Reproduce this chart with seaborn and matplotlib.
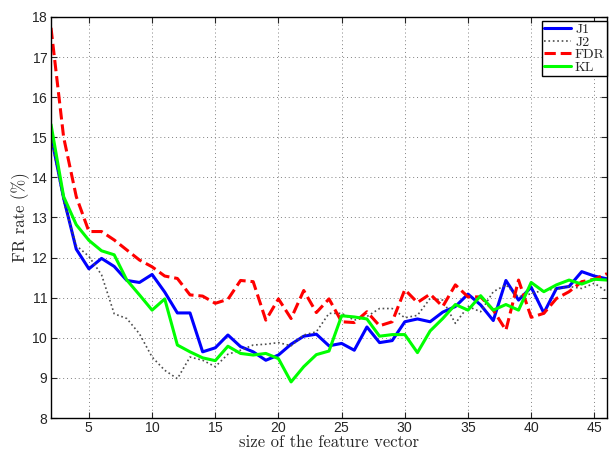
import numpy as np
import pandas as pd
import seaborn as sns
import matplotlib.pyplot as plt

# tamanho do vetor de caracteristicas
tamanho = list(range(2, 47))

j1 = [15.05, 13.48, 12.21, 11.72, 11.98, 11.78, 11.43, 11.38, 11.58, 11.14,
      10.62, 10.62, 9.65, 9.75, 10.07, 9.78, 9.65, 9.44, 9.57, 9.84,
      10.04, 10.09, 9.80, 9.86, 9.69, 10.27, 9.88, 9.93, 10.40, 10.47,
      10.40, 10.64, 10.78, 11.09, 10.82, 10.43, 11.43, 10.94, 11.26, 10.62,
      11.23, 11.28, 11.65, 11.54, 11.47]
j2 = [15.00, 13.40, 12.30, 12.03, 11.57, 10.60, 10.48, 10.10, 9.52, 9.19,
      8.98, 9.52, 9.44, 9.28, 9.59, 9.69, 9.82, 9.84, 9.88, 9.80,
      10.07, 10.15, 10.61, 10.61, 10.44, 10.53, 10.73, 10.73, 10.50, 10.56,
      10.98, 10.94, 10.36, 10.78, 10.65, 11.15, 11.32, 11.02, 11.10, 11.19,
      11.21, 11.28, 11.23, 11.36, 11.15]
fdr = [17.73, 15.00, 13.52, 12.65, 12.65, 12.44, 12.19, 11.94, 11.77, 11.54,
       11.48, 11.07, 11.04, 10.86, 10.96, 11.43, 11.40, 10.44, 10.97, 10.48,
       11.18, 10.63, 10.97, 10.40, 10.38, 10.65, 10.30, 10.40, 11.20, 10.88,
       11.09, 10.78, 11.32, 11.02, 11.02, 10.69, 10.19, 11.44, 10.51, 10.61,
       10.98, 11.15, 11.40, 11.46, 11.60]
kl = [15.32, 13.52, 12.82, 12.43, 12.17, 12.07, 11.44, 11.07, 10.69, 10.97,
      9.82, 9.65, 9.50, 9.43, 9.79, 9.61, 9.57, 9.61, 9.48, 8.90,
      9.28, 9.58, 9.67, 10.55, 10.52, 10.47, 10.04, 10.08, 10.08, 9.63,
      10.17, 10.48, 10.83, 10.69, 11.05, 10.69, 10.83, 10.69, 11.38, 11.15,
      11.32, 11.44, 11.34, 11.46, 11.44]

sns.set_style('ticks')
plt.rcParams['font.family'] = ['Liberation Sans', 'DejaVu Sans']
plt.rcParams['axes.formatter.use_mathtext'] = True

fig = plt.figure(figsize=(6.09, 4.51), dpi=100)
ax = fig.add_axes([51 / 609, 33 / 451, 556 / 609, 401 / 451])

series = [('J1', j1, (0, 0, 1), '-', 2.2),
          ('J2', j2, (0.3, 0.3, 0.3), ':', 1.2),
          ('FDR', fdr, (1, 0, 0), '--', 2.2),
          ('KL', kl, (0, 1, 0), '-', 2.2)]
for nome, valores, cor, estilo, lw in series:
    sns.lineplot(x=tamanho, y=valores, ax=ax, color=cor, linestyle=estilo,
                 linewidth=lw, label=nome)

ax.set_xlim(2, 46)
ax.set_ylim(8, 18)
ax.set_xticks(range(5, 46, 5))
ax.set_yticks(range(8, 19))
ax.grid(True, linestyle=(0, (1, 3)), color='gray', linewidth=0.7)
ax.tick_params(direction='in', top=True, right=True, labelsize=10, length=4, pad=2)
for s in ax.spines.values():
    s.set_linewidth(1)
    s.set_color('black')

serif = ['cmr10', 'DejaVu Serif']
ax.set_xlabel('size of the feature vector', family=serif, fontsize=12, labelpad=0)
ax.set_ylabel('FR rate (%)', family=serif, fontsize=12, labelpad=1)

leg = ax.legend(loc='upper right', bbox_to_anchor=(1.0, 0.99), frameon=True,
                fancybox=False, framealpha=1, edgecolor='black', borderpad=0.15,
                labelspacing=0.0, handlelength=1.9, handletextpad=0.3,
                borderaxespad=0.0, prop={'family': serif, 'size': 10})
leg.get_frame().set_linewidth(1)

fig.savefig('out.png', dpi=100)
